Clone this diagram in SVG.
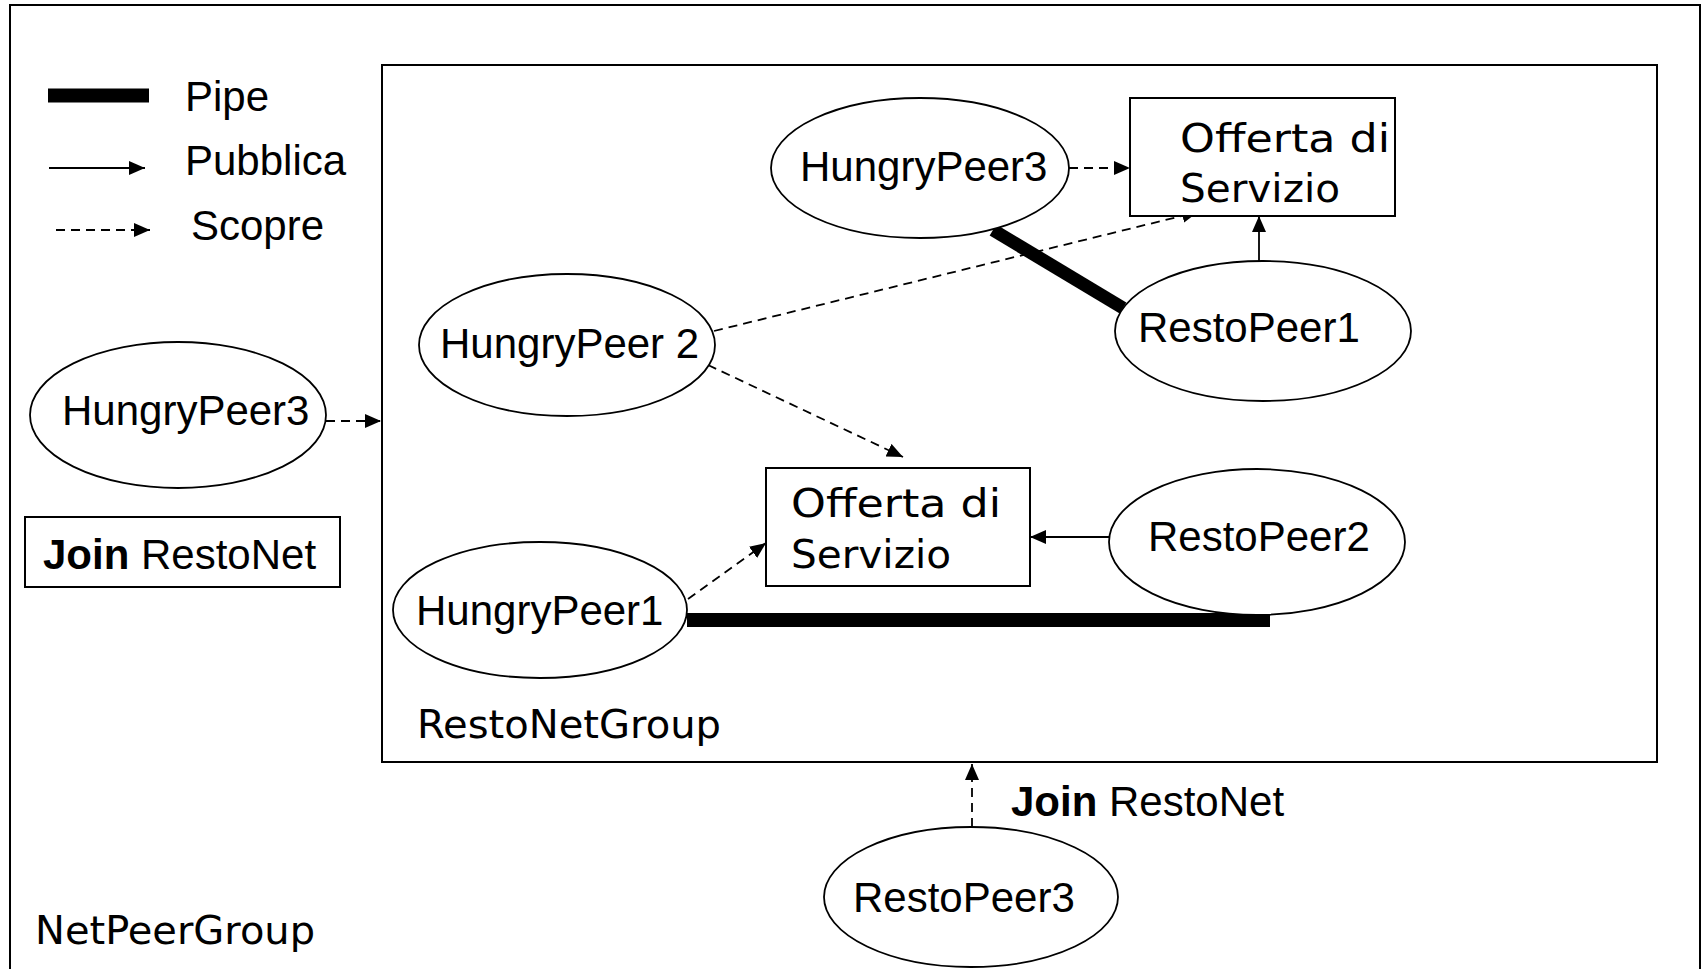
<svg xmlns="http://www.w3.org/2000/svg" width="1702" height="969" viewBox="0 0 1702 969">
<defs>
<marker id="arr" markerUnits="userSpaceOnUse" markerWidth="18" markerHeight="15" refX="16" refY="7" orient="auto">
<path d="M0,0 L16,7 L0,14 Z" fill="#000"/>
</marker>
<style>
.frame{fill:#fff;stroke:#000;stroke-width:2}
.node{fill:#fff;stroke:#000;stroke-width:1.8}
.box{fill:#fff;stroke:#000;stroke-width:2}
.lbl{font-family:"Liberation Sans",Arial,sans-serif;font-size:42px;fill:#000}
.comic{font-family:"Comic Sans MS","DejaVu Sans",sans-serif;font-size:39px;fill:#000}
.pub{fill:none;stroke:#000;stroke-width:1.8;marker-end:url(#arr)}
.scp{fill:none;stroke:#000;stroke-width:1.8;stroke-dasharray:9,6;marker-end:url(#arr)}
.pipe{fill:none;stroke:#000}
</style>
</defs>
<rect width="1702" height="969" fill="#fff"/>
<g id="netpeergroup">
<rect class="frame" x="10" y="5" width="1690" height="990"/>
<text class="comic" x="35" y="944" textLength="280" lengthAdjust="spacingAndGlyphs">NetPeerGroup</text>
</g>
<g id="restonetgroup">
<rect class="frame" x="382" y="65" width="1275" height="697"/>
<text class="comic" x="417" y="738" textLength="304" lengthAdjust="spacingAndGlyphs">RestoNetGroup</text>
</g>
<g id="legend">
<line x1="48" y1="95.5" x2="149" y2="95.5" stroke="#000" stroke-width="14"/>
<text class="lbl" x="185" y="111">Pipe</text>
<line class="pub" x1="49" y1="168" x2="145" y2="168"/>
<text class="lbl" x="185" y="175">Pubblica</text>
<line class="scp" x1="56" y1="230" x2="150" y2="230"/>
<text class="lbl" x="191" y="240">Scopre</text>
</g>
<g id="connectors">
<line class="pipe" x1="993" y1="230" x2="1123" y2="308" stroke-width="13"/>
<line class="pipe" x1="687" y1="620" x2="1270" y2="620" stroke-width="14"/>
<line class="scp" x1="1069" y1="168" x2="1130" y2="168"/>
<line class="pub" x1="1259" y1="262" x2="1259" y2="216"/>
<line class="scp" x1="714" y1="331" x2="1198" y2="212"/>
<line class="scp" x1="708" y1="365" x2="903" y2="457"/>
<line class="scp" x1="688" y1="599" x2="766" y2="543"/>
<line class="pub" x1="1112" y1="537" x2="1030" y2="537"/>
<line class="scp" x1="326" y1="421" x2="381" y2="421"/>
<line class="scp" x1="972" y1="827" x2="972" y2="764"/>
</g>
<g id="hungrypeer3-top">
<ellipse class="node" cx="920" cy="168" rx="149" ry="70"/>
<text class="lbl" x="800" y="181">HungryPeer3</text>
</g>
<g id="offerta-top">
<rect class="box" x="1130" y="98" width="265" height="118"/>
<text class="comic" x="1180" y="152" textLength="210" lengthAdjust="spacingAndGlyphs">Offerta di</text>
<text class="comic" x="1180" y="202" textLength="160" lengthAdjust="spacingAndGlyphs">Servizio</text>
</g>
<g id="restopeer1">
<ellipse class="node" cx="1263" cy="331" rx="148" ry="70"/>
<text class="lbl" x="1138" y="342">RestoPeer1</text>
</g>
<g id="hungrypeer2">
<ellipse class="node" cx="567" cy="345" rx="148" ry="71"/>
<text class="lbl" x="440" y="358">HungryPeer 2</text>
</g>
<g id="offerta-bottom">
<rect class="box" x="766" y="468" width="264" height="118"/>
<text class="comic" x="791" y="517" textLength="210" lengthAdjust="spacingAndGlyphs">Offerta di</text>
<text class="comic" x="791" y="568" textLength="160" lengthAdjust="spacingAndGlyphs">Servizio</text>
</g>
<g id="restopeer2">
<ellipse class="node" cx="1257" cy="542" rx="148" ry="73"/>
<text class="lbl" x="1148" y="551">RestoPeer2</text>
</g>
<g id="hungrypeer1">
<ellipse class="node" cx="540" cy="610" rx="147" ry="68"/>
<text class="lbl" x="416" y="625">HungryPeer1</text>
</g>
<g id="hungrypeer3-left">
<ellipse class="node" cx="178" cy="415" rx="148" ry="73"/>
<text class="lbl" x="62" y="425">HungryPeer3</text>
</g>
<g id="join-box">
<rect class="box" x="25" y="517" width="315" height="70"/>
<text class="lbl" x="43" y="569"><tspan font-weight="bold">Join</tspan> RestoNet</text>
</g>
<g id="restopeer3">
<ellipse class="node" cx="971" cy="897" rx="147" ry="70"/>
<text class="lbl" x="853" y="912">RestoPeer3</text>
</g>
<g id="join-label">
<text class="lbl" x="1011" y="816"><tspan font-weight="bold">Join</tspan> RestoNet</text>
</g>
</svg>
